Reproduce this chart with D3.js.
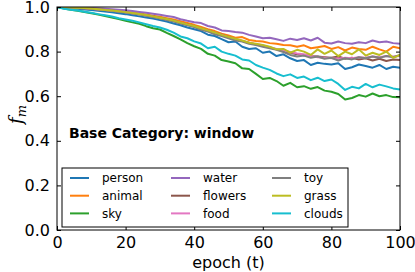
<!DOCTYPE html>
<html>
<head>
<meta charset="utf-8">
<script src="https://cdn.jsdelivr.net/npm/d3@7"></script>
<style>
  body { margin: 0; background: #fff; }
  svg { display: block; font-family: 'DejaVu Sans', sans-serif; }
</style>
</head>
<body>
<svg id="chart" width="415" height="272"></svg>
<script>
// epochs sampled every 2
const epochs = d3.range(0, 101, 2);

const xTicks = [0, 20, 40, 60, 80, 100];
const yTicks = [0, 0.2, 0.4, 0.6, 0.8, 1.0];

const categories = ['person', 'animal', 'sky', 'water', 'flowers', 'food', 'toy', 'grass', 'clouds'];
const colors = ['#1f77b4', '#ff7f0e', '#2ca02c', '#9467bd', '#8c564b', '#e377c2', '#7f7f7f', '#bcbd22', '#17becf'];

const person = [1.000, 0.997, 0.995, 0.992, 0.989, 0.986, 0.983, 0.980, 0.976, 0.972, 0.968, 0.963, 0.958, 0.953, 0.948, 0.942,
  0.935, 0.926, 0.918, 0.908, 0.900, 0.892, 0.876, 0.870, 0.856, 0.842, 0.845, 0.822, 0.812, 0.815, 0.795, 0.800, 0.780,
  0.788, 0.770, 0.758, 0.762, 0.740, 0.750, 0.745, 0.742, 0.748, 0.722, 0.730, 0.742, 0.735, 0.728, 0.740, 0.722, 0.732, 0.728];
const animal = [1.000, 0.999, 0.998, 0.997, 0.995, 0.993, 0.991, 0.988, 0.985, 0.982, 0.978, 0.975, 0.971, 0.966, 0.961, 0.956,
  0.950, 0.944, 0.936, 0.928, 0.920, 0.910, 0.900, 0.892, 0.880, 0.872, 0.862, 0.865, 0.852, 0.848, 0.845, 0.838, 0.835,
  0.830, 0.828, 0.822, 0.828, 0.815, 0.820, 0.825, 0.812, 0.820, 0.805, 0.818, 0.812, 0.808, 0.822, 0.810, 0.800, 0.822, 0.815];
const sky = [1.000, 0.993, 0.988, 0.983, 0.978, 0.972, 0.966, 0.960, 0.953, 0.946, 0.938, 0.931, 0.925, 0.914, 0.905, 0.899,
  0.884, 0.870, 0.855, 0.838, 0.824, 0.812, 0.790, 0.782, 0.762, 0.756, 0.748, 0.725, 0.722, 0.700, 0.677, 0.682, 0.668,
  0.647, 0.660, 0.640, 0.645, 0.633, 0.641, 0.625, 0.620, 0.610, 0.585, 0.592, 0.605, 0.598, 0.612, 0.600, 0.605, 0.596, 0.595];
const water = [1.000, 1.000, 0.999, 0.998, 0.997, 0.996, 0.994, 0.992, 0.990, 0.988, 0.985, 0.982, 0.978, 0.974, 0.970, 0.965,
  0.960, 0.955, 0.945, 0.938, 0.932, 0.928, 0.915, 0.908, 0.895, 0.892, 0.888, 0.885, 0.875, 0.868, 0.860, 0.862, 0.855,
  0.848, 0.858, 0.852, 0.860, 0.850, 0.862, 0.840, 0.836, 0.845, 0.838, 0.835, 0.842, 0.838, 0.850, 0.842, 0.845, 0.838, 0.835];
const flowers = [1.000, 0.999, 0.998, 0.996, 0.994, 0.992, 0.990, 0.987, 0.984, 0.980, 0.976, 0.972, 0.968, 0.963, 0.957, 0.951,
  0.945, 0.938, 0.930, 0.922, 0.914, 0.904, 0.895, 0.885, 0.876, 0.866, 0.856, 0.848, 0.840, 0.832, 0.825, 0.818, 0.810,
  0.802, 0.795, 0.788, 0.784, 0.780, 0.778, 0.775, 0.772, 0.778, 0.768, 0.772, 0.765, 0.770, 0.760, 0.768, 0.758, 0.765, 0.762];
const food = [1.000, 0.999, 0.998, 0.996, 0.994, 0.992, 0.989, 0.986, 0.983, 0.980, 0.976, 0.972, 0.967, 0.962, 0.956, 0.950,
  0.944, 0.937, 0.929, 0.921, 0.913, 0.903, 0.894, 0.884, 0.875, 0.865, 0.855, 0.847, 0.839, 0.833, 0.828, 0.820, 0.812,
  0.805, 0.798, 0.792, 0.788, 0.780, 0.775, 0.772, 0.770, 0.768, 0.772, 0.770, 0.775, 0.772, 0.778, 0.775, 0.780, 0.778, 0.780];
const toy = [1.000, 0.999, 0.998, 0.996, 0.994, 0.992, 0.989, 0.986, 0.983, 0.979, 0.975, 0.971, 0.966, 0.961, 0.955, 0.949,
  0.942, 0.935, 0.926, 0.918, 0.910, 0.898, 0.890, 0.878, 0.870, 0.860, 0.850, 0.845, 0.835, 0.830, 0.822, 0.815, 0.808,
  0.798, 0.785, 0.778, 0.782, 0.772, 0.778, 0.768, 0.772, 0.760, 0.770, 0.765, 0.775, 0.770, 0.778, 0.772, 0.780, 0.775, 0.785];
const grass = [1.000, 0.999, 0.998, 0.997, 0.995, 0.993, 0.990, 0.987, 0.984, 0.981, 0.977, 0.973, 0.969, 0.964, 0.958, 0.952,
  0.946, 0.939, 0.930, 0.922, 0.915, 0.905, 0.895, 0.886, 0.875, 0.866, 0.858, 0.850, 0.840, 0.835, 0.830, 0.822, 0.810,
  0.812, 0.795, 0.808, 0.800, 0.785, 0.810, 0.790, 0.805, 0.780, 0.800, 0.788, 0.810, 0.782, 0.795, 0.785, 0.800, 0.772, 0.785];
const clouds = [1.000, 0.992, 0.988, 0.984, 0.979, 0.974, 0.968, 0.963, 0.957, 0.950, 0.944, 0.938, 0.931, 0.923, 0.915, 0.908,
  0.898, 0.885, 0.868, 0.860, 0.846, 0.836, 0.815, 0.822, 0.800, 0.790, 0.782, 0.765, 0.760, 0.740, 0.728, 0.718, 0.702,
  0.690, 0.698, 0.682, 0.688, 0.672, 0.683, 0.668, 0.675, 0.655, 0.628, 0.642, 0.635, 0.655, 0.640, 0.652, 0.644, 0.635, 0.630];

const seriesValues = [person, animal, sky, water, flowers, food, toy, grass, clouds];

const margin = { top: 7, right: 15, bottom: 42, left: 57 };
const width = 415 - margin.left - margin.right;
const height = 272 - margin.top - margin.bottom;

const svg = d3.select('#chart');
const g = svg.append('g').attr('transform', `translate(${margin.left},${margin.top})`);

const xScale = d3.scaleLinear().domain([0, 100]).range([0, width]);
const yScale = d3.scaleLinear().domain([0, 1]).range([height, 0]);

const line = d3.line()
  .x((d, i) => xScale(epochs[i]))
  .y(d => yScale(d));

g.append('clipPath').attr('id', 'clip')
  .append('rect').attr('width', width).attr('height', height);

seriesValues.forEach((vals, i) => {
  g.append('path')
    .datum(vals)
    .attr('fill', 'none')
    .attr('stroke', colors[i])
    .attr('stroke-width', 2)
    .attr('stroke-linejoin', 'round')
    .attr('clip-path', 'url(#clip)')
    .attr('d', line);
});

// axes with inward ticks on all four sides
const tickLen = 4;
const bottomAxis = d3.axisBottom(xScale).tickValues(xTicks).tickSizeInner(-tickLen).tickSizeOuter(0).tickPadding(7);
const leftAxis = d3.axisLeft(yScale).tickValues(yTicks).tickFormat(d3.format('.1f')).tickSizeInner(-tickLen).tickSizeOuter(0).tickPadding(7);
const topAxis = d3.axisTop(xScale).tickValues(xTicks).tickSizeInner(-tickLen).tickSizeOuter(0).tickFormat('');
const rightAxis = d3.axisRight(yScale).tickValues(yTicks).tickSizeInner(-tickLen).tickSizeOuter(0).tickFormat('');

const gX = g.append('g').attr('transform', `translate(0,${height})`).call(bottomAxis);
const gY = g.append('g').call(leftAxis);
g.append('g').call(topAxis);
g.append('g').attr('transform', `translate(${width},0)`).call(rightAxis);

g.selectAll('.domain').remove();
g.selectAll('.tick line').attr('stroke', '#000');
g.selectAll('.tick text')
  .attr('fill', '#000')
  .style('font-size', '16px')
  .style('font-family', 'DejaVu Sans');

g.append('rect')
  .attr('width', width)
  .attr('height', height)
  .attr('fill', 'none')
  .attr('stroke', '#000')
  .attr('stroke-width', 1);

// axis labels
g.append('text')
  .attr('x', width / 2)
  .attr('y', height + 38)
  .attr('text-anchor', 'middle')
  .style('font-size', '16px')
  .text('epoch (t)');

const yLabel = svg.append('text')
  .attr('transform', `translate(22,${margin.top + height / 2 - 4}) rotate(-90)`)
  .attr('text-anchor', 'middle')
  .style('font-size', '18px')
  .style('font-family', 'DejaVu Serif')
  .style('font-style', 'italic');
yLabel.append('tspan').text('f');
yLabel.append('tspan').attr('dy', 4).style('font-size', '13px').text('m');

// annotation
g.append('text')
  .attr('x', 12)
  .attr('y', 131)
  .style('font-size', '14px')
  .style('font-weight', 'bold')
  .text('Base Category: window');

// legend
const legend = g.append('g').attr('transform', 'translate(5,161)');
legend.append('rect')
  .attr('width', 286)
  .attr('height', 59)
  .attr('fill', '#fff')
  .attr('stroke', '#000')
  .attr('stroke-width', 1);

categories.forEach((name, i) => {
  const col = Math.floor(i / 3);
  const row = i % 3;
  const item = legend.append('g')
    .attr('transform', `translate(${8 + col * 101},${10 + row * 17.7})`);
  item.append('line')
    .attr('x1', 0).attr('x2', 19)
    .attr('stroke', colors[i])
    .attr('stroke-width', 2);
  item.append('text')
    .attr('x', 32)
    .attr('dy', '0.35em')
    .style('font-size', '12px')
    .text(name);
});
</script>
</body>
</html>
